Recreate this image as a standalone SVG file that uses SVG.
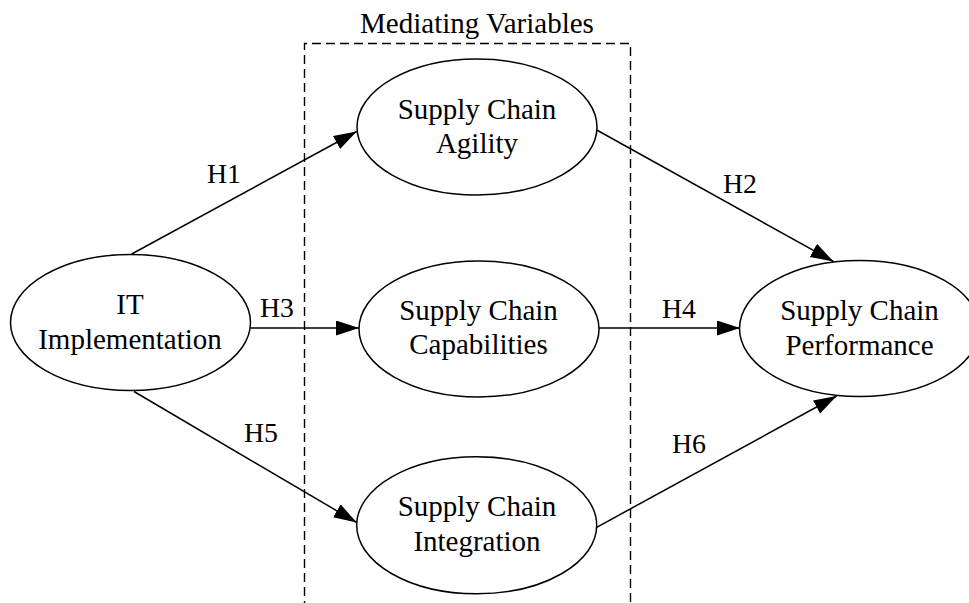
<svg xmlns="http://www.w3.org/2000/svg" width="969" height="603" viewBox="0 0 969 603">
<style>
.node{fill:#fff;stroke:#000;stroke-width:1.5}
.t{font-family:'Liberation Serif','Times New Roman',serif;font-size:29px;fill:#000;text-anchor:middle}
.lbl{font-family:'Liberation Serif','Times New Roman',serif;font-size:27.8px;fill:#000;text-anchor:middle}
.edge{stroke:#000;stroke-width:1.5;fill:none;marker-end:url(#arr)}
.box{stroke:#000;stroke-width:1.4;fill:none;stroke-dasharray:9,5}
</style>
<defs>
<marker id="arr" markerUnits="userSpaceOnUse" markerWidth="24" markerHeight="16" refX="23" refY="7.5" orient="auto">
<path d="M0,0 L23,7.5 L0,15 z" fill="#000"/>
</marker>
</defs>
<rect width="969" height="603" fill="#fff"/>
<g id="mediating-box">
<path class="box" d="M304.5,610 V43.5 H630.5 V610"/>
<text class="t" x="477" y="33">Mediating Variables</text>
</g>
<g id="connectors">
<line class="edge" x1="131.7" y1="254" x2="356.7" y2="131.5"/>
<line class="edge" x1="596.7" y1="130" x2="833.5" y2="261.5"/>
<line class="edge" x1="250.5" y1="328" x2="359" y2="328"/>
<line class="edge" x1="599" y1="328" x2="740" y2="328"/>
<line class="edge" x1="134" y1="391.5" x2="356.7" y2="522.5"/>
<line class="edge" x1="596.7" y1="527.3" x2="836.7" y2="396"/>
<text class="lbl" x="224" y="183">H1</text>
<text class="lbl" x="740" y="193">H2</text>
<text class="lbl" x="277" y="317">H3</text>
<text class="lbl" x="679" y="318">H4</text>
<text class="lbl" x="261" y="442">H5</text>
<text class="lbl" x="689" y="453">H6</text>
</g>
<g id="it-implementation">
<ellipse class="node" cx="130.5" cy="322.5" rx="120" ry="68"/>
<text class="t" x="130" y="314">IT</text>
<text class="t" x="130" y="349">Implementation</text>
</g>
<g id="sc-agility">
<ellipse class="node" cx="477" cy="127" rx="120" ry="68"/>
<text class="t" x="477" y="119">Supply Chain</text>
<text class="t" x="477" y="153">Agility</text>
</g>
<g id="sc-capabilities">
<ellipse class="node" cx="479" cy="329" rx="120" ry="68"/>
<text class="t" x="478.5" y="320">Supply Chain</text>
<text class="t" x="478.5" y="354">Capabilities</text>
</g>
<g id="sc-integration">
<ellipse class="node" cx="476.7" cy="525.3" rx="120" ry="68.5"/>
<text class="t" x="477" y="516">Supply Chain</text>
<text class="t" x="477" y="551">Integration</text>
</g>
<g id="sc-performance">
<ellipse class="node" cx="859.5" cy="328.5" rx="120" ry="68"/>
<text class="t" x="859.5" y="320">Supply Chain</text>
<text class="t" x="859.5" y="355">Performance</text>
</g>
</svg>
